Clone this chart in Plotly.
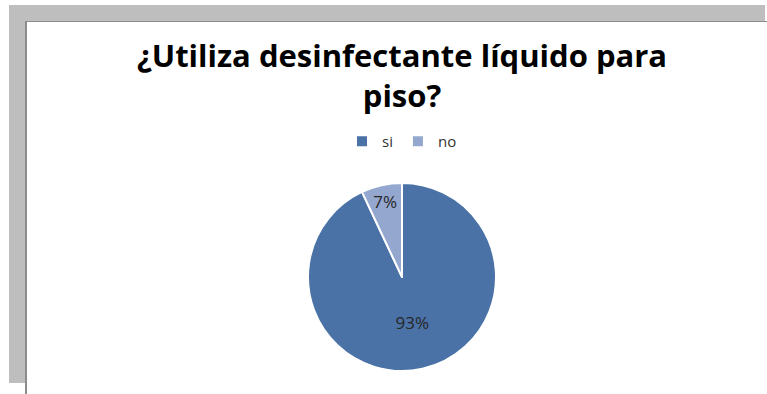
import plotly.graph_objects as go

labels = ["si", "no"]
values = [93, 7]
colors = ["#4A72A6", "#94A8CF"]
title_text = "¿Utiliza desinfectante líquido para<br>piso?"

W, H = 767, 394

def px(x):
    return x / W

def py(y):
    return 1 - y / H

fig = go.Figure()
fig.add_trace(go.Pie(
    labels=labels,
    values=values,
    sort=False,
    direction="clockwise",
    rotation=0,
    marker=dict(colors=colors, line=dict(color="white", width=2)),
    textinfo="percent",
    texttemplate="%{percent:.0%}",
    textposition="inside",
    insidetextorientation="horizontal",
    textfont=dict(family="Open Sans", size=17, color="#262626"),
    domain=dict(x=[px(402 - 95), px(402 + 95)], y=[py(277 + 94), py(277 - 94)]),
    showlegend=True,
    hoverinfo="label+percent",
))

shapes = [
    dict(type="rect", xref="paper", yref="paper", x0=px(9), x1=px(765), y0=py(21), y1=py(5),
         fillcolor="#BEBEBE", line=dict(width=0), layer="below"),
    dict(type="rect", xref="paper", yref="paper", x0=px(9), x1=px(25), y0=py(383), y1=py(5),
         fillcolor="#BEBEBE", line=dict(width=0), layer="below"),
    dict(type="line", xref="paper", yref="paper", x0=px(25.5), x1=px(767), y0=py(21.5), y1=py(21.5),
         line=dict(color="#8C8C8C", width=1)),
    dict(type="line", xref="paper", yref="paper", x0=px(26), x1=px(26), y0=py(21), y1=py(394),
         line=dict(color="#8C8C8C", width=2)),
]

fig.update_layout(
    width=W, height=H,
    margin=dict(l=0, r=0, t=0, b=0),
    paper_bgcolor="white",
    plot_bgcolor="white",
    shapes=shapes,
    title=dict(text="<b>" + title_text + "</b>", x=px(402), xanchor="center",
               y=py(67), yanchor="top", yref="container",
               font=dict(family="Open Sans", size=31, color="#000000")),
    legend=dict(orientation="h", x=px(402), xanchor="center", y=py(125), yanchor="top",
                font=dict(family="Open Sans", size=15, color="#333333"),
                itemwidth=30, bgcolor="rgba(0,0,0,0)"),
    uniformtext=dict(minsize=17, mode="show"),
)

fig.write_html("out.html", config={"displayModeBar": False},
               post_script="document.body.style.margin='0';")
